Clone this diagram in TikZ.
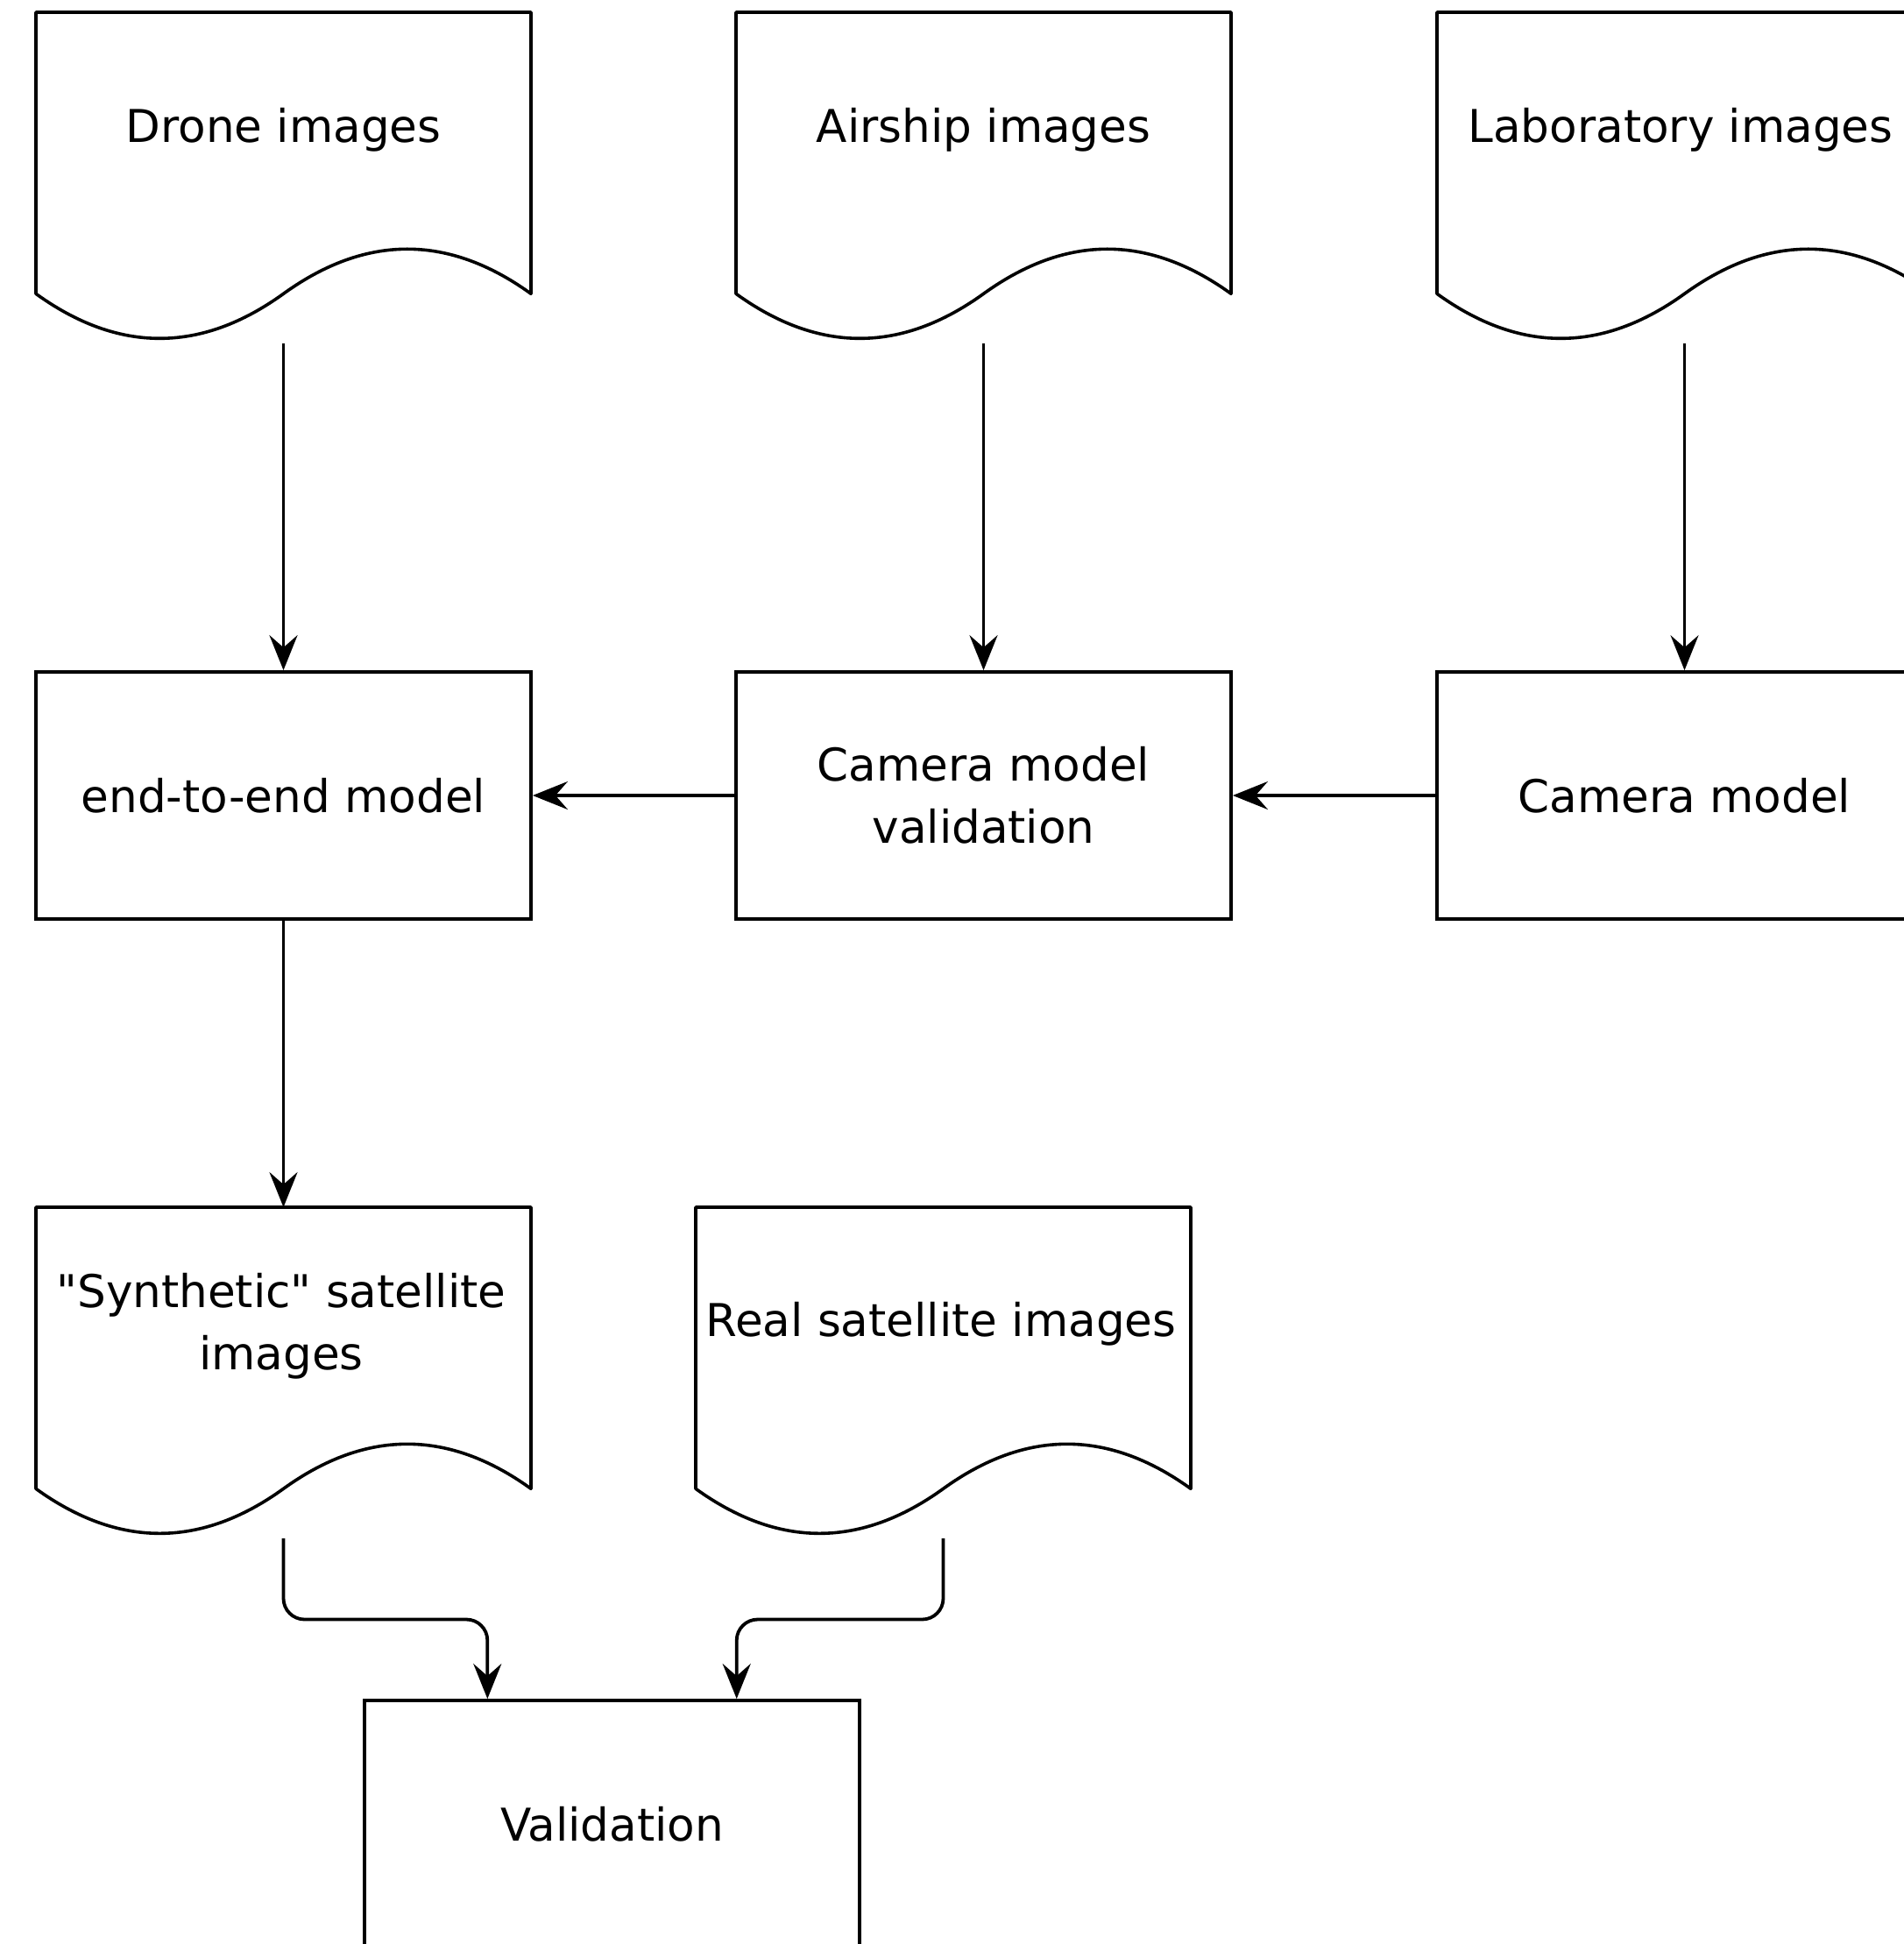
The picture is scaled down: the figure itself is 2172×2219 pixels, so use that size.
\documentclass[tikz,border=0pt]{standalone}
\usepackage{fontspec}
\setmainfont{DejaVu Sans}[Ligatures=TeXOff]
\usetikzlibrary{arrows.meta,calc}
\newcommand{\drawdoc}[1]{\draw[docline,shift={(#1.north west)}] (0,0) -- (565,0) -- (565,321.3) .. controls (470.8,253.3) and (376.7,253.3) .. (282.5,321.3) .. controls (188.3,389.3) and (94.2,389.3) .. (0,321.3) -- cycle;}
\begin{document}
\begin{tikzpicture}[x=0.5pt,y=-0.5pt,
  frame/.style={draw=none, minimum width=282.5pt, minimum height=189pt, inner sep=0pt, outer sep=0pt},
  docline/.style={line width=1.8pt, line join=round},
  lbl/.style={font=\fontsize{25.8}{35.5}\selectfont, align=center, inner sep=0pt},
  box/.style={draw, line width=1.9pt, minimum width=282.5pt, minimum height=141pt, font=\fontsize{25.8}{35.5}\selectfont, align=center, inner sep=2pt},
  arr/.style={line width=1.9pt, -{Stealth[length=20pt, width=16pt, inset=7pt]}}]
\useasboundingbox (0,0) rectangle (2172,2219);
% documents
\node[frame] (drone) at (323.5,203) {};
\node[frame] (air) at (1122.5,203) {};
\node[frame] (lab) at (1922.5,203) {};
\node[frame] (synth) at (323.5,1567) {};
\node[frame] (real) at (1076.5,1567) {};
\drawdoc{drone}
\drawdoc{air}
\drawdoc{lab}
\drawdoc{synth}
\drawdoc{real}
\node[lbl] (dronet) at (323.5,148) {Drone images};
\node[lbl] (airt) at (1122.5,148) {Airship images};
\node[lbl] (labt) at (1918,148) {Laboratory images};
\node[lbl] (syntht) at (321,1514) {"Synthetic" satellite\\images};
\node[lbl] (realt) at (1074,1511) {Real satellite images};
% boxes
\node[box] (e2e) at (323.5,908) {end-to-end model};
\node[box] (cmv) at (1122.5,908) {Camera model\\validation};
\node[box] (cm) at (1922.5,908) {Camera model};
\node[box] (val) at (698.5,2082) {Validation};
% connectors
\draw[arr] (drone.south) -- (e2e.north);
\draw[arr] (air.south) -- (cmv.north);
\draw[arr, line width=1.1pt] (lab.south) -- (cm.north);
\draw[arr] (cm.west) -- (cmv.east);
\draw[arr] (cmv.west) -- (e2e.east);
\draw[arr] (e2e.south) -- (synth.north);
\coordinate (mid) at (0,1848.5);
\coordinate (v1) at ($(val.north west)!0.25!(val.north east)$);
\coordinate (v2) at ($(val.north west)!0.75!(val.north east)$);
\draw[arr, rounded corners=12pt] (synth.south) -- (synth.south |- mid) -- (v1 |- mid) -- (v1);
\draw[arr, rounded corners=12pt] (real.south) -- (real.south |- mid) -- (v2 |- mid) -- (v2);
\end{tikzpicture}
\end{document}
